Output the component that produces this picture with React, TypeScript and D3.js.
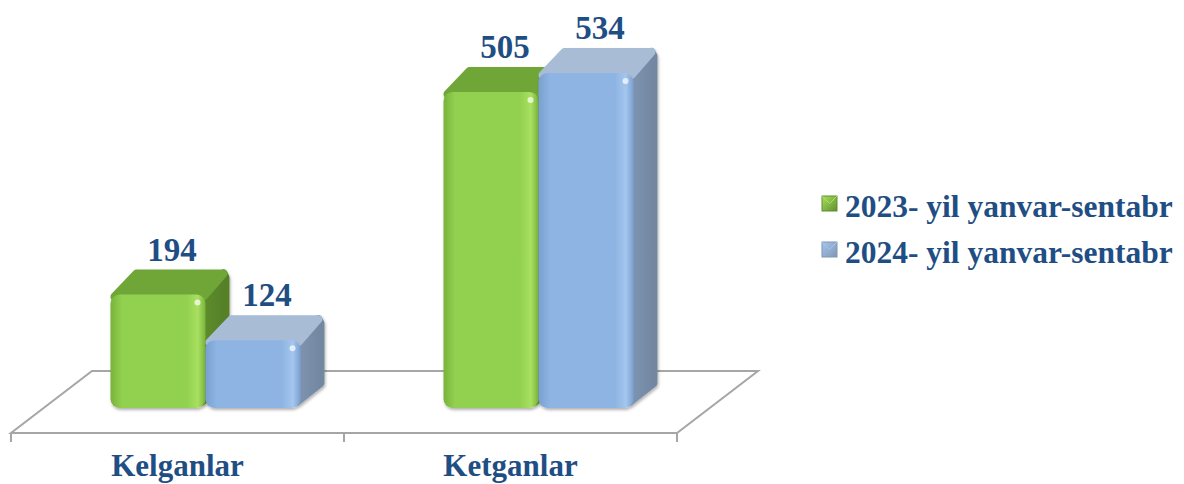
import React, { useEffect, useRef } from 'react';
import * as d3 from 'd3';

const categories = ['Kelganlar', 'Ketganlar'];
const seriesNames = ['2023- yil yanvar-sentabr', '2024- yil yanvar-sentabr'];
const values2023 = [194, 505];
const values2024 = [124, 534];

const W = 1184;
const H = 484;

const palette = [
  { front: '#92d050', light: '#a8e060', dark: '#78b33a', side: '#5f8f2c', top: '#6fa638' },
  { front: '#8db4e2', light: '#a4c6ee', dark: '#7aa0d0', side: '#8096b3', top: '#a9bcd6' },
];

const App: React.FC = () => {
  const svgRef = useRef<SVGSVGElement>(null);

  useEffect(() => {
    if (!svgRef.current) return;
    const svg = d3.select(svgRef.current);
    svg.selectAll('*').remove();

    const series = [values2023, values2024];
    const textColor = '#1f4e84';
    const font = '"Liberation Serif", "Times New Roman", serif';

    // floor geometry
    const floorFront = 433;
    const floorBack = 371;
    const floorShift = 81;

    const x = d3.scaleBand<string>().domain(categories).range([11, 677]);
    const y = d3.scaleLinear().domain([0, 600]).range([421, 30]);

    const barW = 95;
    const dx = 24;
    const dy = -25;
    const barBottom = 408;

    const defs = svg.append('defs');
    palette.forEach((p, i) => {
      const g = defs.append('linearGradient').attr('id', `front${i}`).attr('x1', 0).attr('x2', 1).attr('y1', 0).attr('y2', 0);
      g.append('stop').attr('offset', '0%').attr('stop-color', p.dark);
      g.append('stop').attr('offset', '12%').attr('stop-color', p.front);
      g.append('stop').attr('offset', '80%').attr('stop-color', p.front);
      g.append('stop').attr('offset', '92%').attr('stop-color', p.light);
      g.append('stop').attr('offset', '100%').attr('stop-color', p.dark);
      const s = defs.append('linearGradient').attr('id', `side${i}`).attr('x1', 0).attr('x2', 1).attr('y1', 0).attr('y2', 0);
      s.append('stop').attr('offset', '0%').attr('stop-color', p.side);
      s.append('stop').attr('offset', '100%').attr('stop-color', d3.color(p.side)!.darker(0.3).toString());
      const lg = defs.append('linearGradient').attr('id', `leg${i}`).attr('x1', 0).attr('x2', 1).attr('y1', 0).attr('y2', 1);
      lg.append('stop').attr('offset', '0%').attr('stop-color', p.light);
      lg.append('stop').attr('offset', '100%').attr('stop-color', p.side);
    });
    const shadow = defs.append('filter').attr('id', 'shadow').attr('x', '-20%').attr('y', '-20%').attr('width', '140%').attr('height', '140%');
    shadow.append('feDropShadow').attr('dx', 1).attr('dy', 2).attr('stdDeviation', 1.5).attr('flood-color', '#000').attr('flood-opacity', 0.3);

    svg.append('rect').attr('width', W).attr('height', H).attr('fill', '#ffffff');

    // Floor
    const x0 = x.range()[0];
    const x1 = x.range()[1];
    svg.append('path')
      .attr('d', `M${x0},${floorFront}L${x1},${floorFront}L${x1 + floorShift},${floorBack}L${x0 + floorShift},${floorBack}Z`)
      .attr('fill', 'none')
      .attr('stroke', '#a6a6a6')
      .attr('stroke-width', 2);

    // ticks
    const tickXs = [x0, ...categories.map(c => (x(c) || 0) + x.bandwidth())];
    svg.append('g').selectAll('line').data(tickXs).join('line')
      .attr('x1', d => d).attr('x2', d => d)
      .attr('y1', floorFront).attr('y2', floorFront + 9)
      .attr('stroke', '#a6a6a6').attr('stroke-width', 2);

    // bars
    const bars = svg.append('g');
    categories.forEach((c, ci) => {
      const center = (x(c) || 0) + x.bandwidth() / 2 + 28;
      series.forEach((vals, si) => {
        const v = vals[ci];
        const bx = center - barW + si * barW;
        const top = y(v);
        const p = palette[si];
        const g = bars.append('g').attr('filter', 'url(#shadow)');
        // side face
        g.append('path')
          .attr('d', `M${bx + barW - 6},${top + 2}L${bx + barW - 6 + dx},${top + dy + 4}L${bx + barW + dx - 4},${top + dy + 8}L${bx + barW + dx - 4},${barBottom + dy}L${bx + barW - 4},${barBottom - 6}Z`)
          .attr('fill', `url(#side${si})`)
          .attr('stroke', `url(#side${si})`)
          .attr('stroke-width', 8)
          .attr('stroke-linejoin', 'round');
        // top face
        g.append('path')
          .attr('d', `M${bx + 4},${top + 2}L${bx + dx + 2},${top + dy + 4}L${bx + barW + dx - 6},${top + dy + 4}L${bx + barW - 2},${top + 2}Z`)
          .attr('fill', p.top)
          .attr('stroke', p.top)
          .attr('stroke-width', 8)
          .attr('stroke-linejoin', 'round');
        // front face
        g.append('rect')
          .attr('x', bx)
          .attr('y', top)
          .attr('width', barW)
          .attr('height', barBottom - top)
          .attr('rx', 9)
          .attr('fill', `url(#front${si})`);
        // highlight dot
        g.append('circle')
          .attr('cx', bx + barW - 8)
          .attr('cy', top + 8)
          .attr('r', 3)
          .attr('fill', '#ffffff')
          .attr('opacity', 0.7);
        // value label
        svg.append('text')
          .attr('x', bx + barW / 2 + 14)
          .attr('y', top + dy - 9)
          .attr('text-anchor', 'middle')
          .attr('font-family', font)
          .attr('font-weight', 'bold')
          .attr('font-size', 33)
          .attr('fill', textColor)
          .text(v);
      });
    });

    // category labels
    svg.append('g').selectAll('text').data(categories).join('text')
      .attr('x', d => (x(d) || 0) + x.bandwidth() / 2)
      .attr('y', 476)
      .attr('text-anchor', 'middle')
      .attr('font-family', font)
      .attr('font-weight', 'bold')
      .attr('font-size', 31)
      .attr('fill', textColor)
      .text(d => d);

    // legend
    const legend = svg.append('g').attr('transform', 'translate(822,0)');
    seriesNames.forEach((name, i) => {
      const ly = 203 + i * 46;
      legend.append('rect')
        .attr('x', 0).attr('y', ly - 7).attr('width', 15).attr('height', 15)
        .attr('fill', `url(#leg${i})`)
        .attr('stroke', palette[i].side).attr('stroke-width', 1);
      legend.append('path')
        .attr('d', `M0,${ly - 7}L7.5,${ly + 0.5}L15,${ly - 7}`)
        .attr('fill', 'none').attr('stroke', palette[i].light).attr('stroke-width', 1);
      legend.append('text')
        .attr('x', 23)
        .attr('y', ly + 14)
        .attr('font-family', font)
        .attr('font-weight', 'bold')
        .attr('font-size', 31.5)
        .attr('fill', textColor)
        .text(name);
    });
  }, []);

  return (
    <svg
      ref={svgRef}
      width={W}
      height={H}
      viewBox={`0 0 ${W} ${H}`}
      style={{ position: 'absolute', left: 0, top: 0 }}
    />
  );
};

export default App;
